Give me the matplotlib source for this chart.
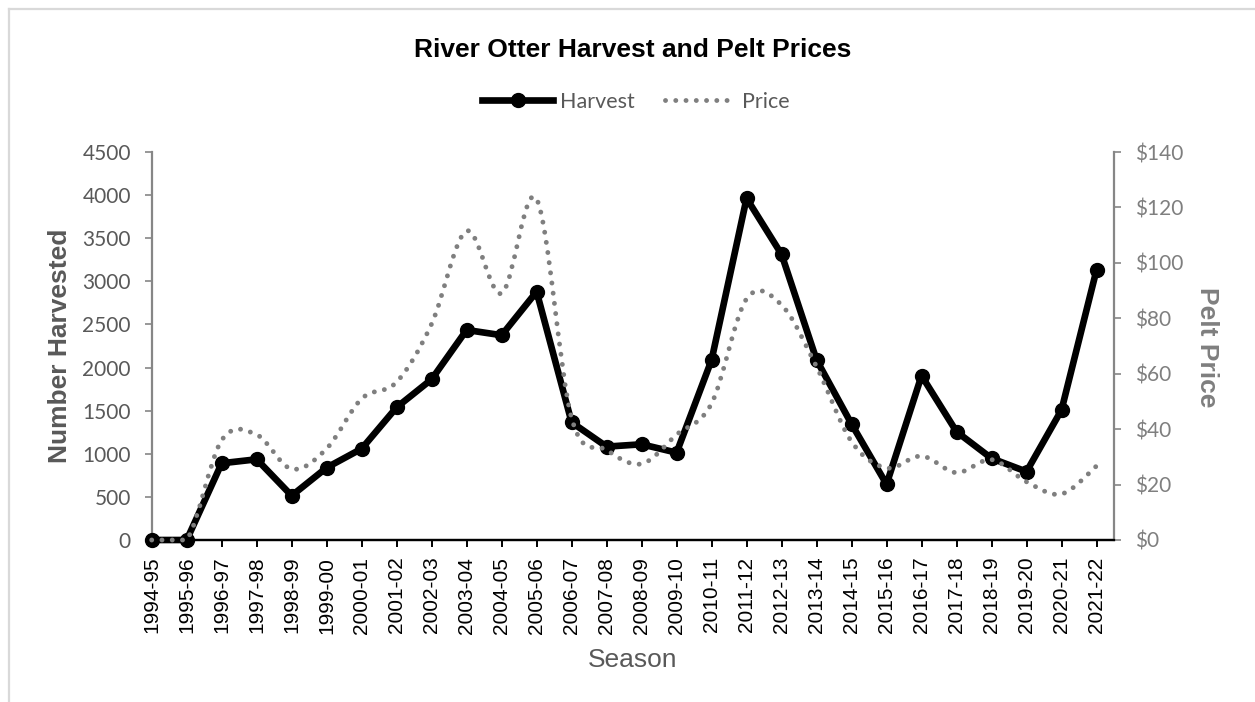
import numpy as np
import matplotlib.pyplot as plt
from matplotlib.path import Path
from matplotlib.patches import PathPatch
from matplotlib.lines import Line2D
from matplotlib.ticker import FuncFormatter

seasons = ["1994-95", "1995-96", "1996-97", "1997-98", "1998-99", "1999-00",
           "2000-01", "2001-02", "2002-03", "2003-04", "2004-05", "2005-06",
           "2006-07", "2007-08", "2008-09", "2009-10", "2010-11", "2011-12",
           "2012-13", "2013-14", "2014-15", "2015-16", "2016-17", "2017-18",
           "2018-19", "2019-20", "2020-21", "2021-22"]
harvest = [0, 0, 890, 936, 514, 839, 1059, 1539, 1864, 2436, 2375, 2880,
           1365, 1083, 1110, 1013, 2088, 3963, 3313, 2088, 1345, 646,
           1906, 1256, 947, 793, 1508, 3131]
price = [0, 0, 36, 38, 25.6, 33, 51, 57, 78, 111.5, 89, 123,
         44, 32.5, 27.5, 38, 49.3, 87, 84.8, 62.5, 35.5, 26,
         30.3, 24.3, 29, 21, 16.6, 26.7]

W, H = 1255, 702
GRAY_DARK = "#595959"
GRAY_MID = "#7f7f7f"
SANS = "Liberation Sans"
CAL = "Lato"


def smooth_path(xs, ys):
    # Excel-like smoothed line: Catmull-Rom segments as cubic Beziers
    pts = np.column_stack([xs, ys]).astype(float)
    ext = np.vstack([pts[0], pts, pts[-1]])
    ymin = pts[:, 1].min()
    verts = [pts[0]]
    codes = [Path.MOVETO]
    for i in range(len(pts) - 1):
        p0, p1, p2, p3 = ext[i], ext[i + 1], ext[i + 2], ext[i + 3]
        c1 = p1 + (p2 - p0) / 6.0
        c2 = p2 - (p3 - p1) / 6.0
        c1[1] = max(c1[1], ymin)
        c2[1] = max(c2[1], ymin)
        verts += [c1, c2, p2]
        codes += [Path.CURVE4] * 3
    return Path(verts, codes)


fig = plt.figure(figsize=(W / 100, H / 100), dpi=100)
ax = fig.add_axes([151.7 / W, 1 - 540 / H, (1114 - 151.7) / W, (540 - 152) / H])
x = np.arange(len(seasons))

ax.plot(x, harvest, color="black", lw=4.8, marker="o", ms=10,
        solid_joinstyle="round", clip_on=False, zorder=3)
ax.set_xlim(0, len(seasons) - 0.5)
ax.set_ylim(0, 4500)
ax.set_yticks(range(0, 4501, 500))
ax.set_xticks(x)
ax.set_xticklabels(seasons, rotation=90, fontsize=15, family=SANS, color="black")
for lab in ax.get_yticklabels():
    lab.set_fontsize(15)
    lab.set_family(CAL)
    lab.set_color(GRAY_DARK)

ax2 = ax.twinx()
ax2.set_ylim(0, 140)
ax2.set_yticks(range(0, 141, 20))
ax2.yaxis.set_major_formatter(FuncFormatter(lambda v, p: f"${v:.0f}"))
for lab in ax2.get_yticklabels():
    lab.set_fontsize(15)
    lab.set_family(CAL)
    lab.set_color(GRAY_MID)

DOTS = (0, (0.01, 2.1))
patch = PathPatch(smooth_path(x, price), facecolor="none", edgecolor="#7f7f7f",
                  lw=3.5, linestyle=DOTS, capstyle="round",
                  clip_on=False, zorder=4)
ax2.add_patch(patch)

for a in (ax, ax2):
    a.spines["top"].set_visible(False)
    a.spines["left"].set_color("#868686")
    a.spines["right"].set_color("#868686")
    a.spines["left"].set_linewidth(1.6)
    a.spines["right"].set_linewidth(1.6)
    a.spines["bottom"].set_color("black")
    a.spines["bottom"].set_linewidth(1.6)
ax.spines["right"].set_visible(False)
ax2.spines["left"].set_visible(False)
ax.tick_params(axis="y", length=5, width=1.2, color="#868686", pad=10)
ax.tick_params(axis="x", length=5, width=1.4, color="black", pad=7)
ax2.tick_params(axis="y", length=5, width=1.2, color="#868686", pad=10)

fig.text(633 / W, 1 - 50 / H, "River Otter Harvest and Pelt Prices",
         ha="center", va="center", fontsize=19, fontweight="bold", family=SANS)
fig.text(60 / W, 1 - 346 / H, "Number Harvested", rotation=90, ha="center",
         va="center", fontsize=19, fontweight="bold", family=SANS, color=GRAY_DARK)
fig.text(1207 / W, 1 - 347 / H, "Pelt Price", rotation=270, ha="center",
         va="center", fontsize=19, fontweight="bold", family=SANS, color=GRAY_MID)
fig.text(633 / W, 1 - 660 / H, "Season", ha="center", va="center",
         fontsize=19, family=SANS, color=GRAY_DARK)

handles = [
    Line2D([], [], color="black", lw=4.8, marker="o", ms=10),
    Line2D([], [], color="#7f7f7f", lw=3.5, linestyle=DOTS,
           dash_capstyle="round"),
]
fig.legend(handles, ["Harvest", "Price"], loc="center",
           bbox_to_anchor=(636 / W, 1 - 102 / H), ncol=2, frameon=False,
           handlelength=3.3, handletextpad=0.3, columnspacing=1.4,
           prop={"family": CAL, "size": 15.5}, labelcolor=GRAY_DARK)

# chart-area border
fig.add_artist(Line2D([8.5 / W, 1], [1 - 8.5 / H] * 2, transform=fig.transFigure,
                      color="#d9d9d9", lw=1.6))
fig.add_artist(Line2D([8.5 / W] * 2, [0, 1 - 8.5 / H], transform=fig.transFigure,
                      color="#d9d9d9", lw=1.6))

fig.savefig("out.png", dpi=100)
